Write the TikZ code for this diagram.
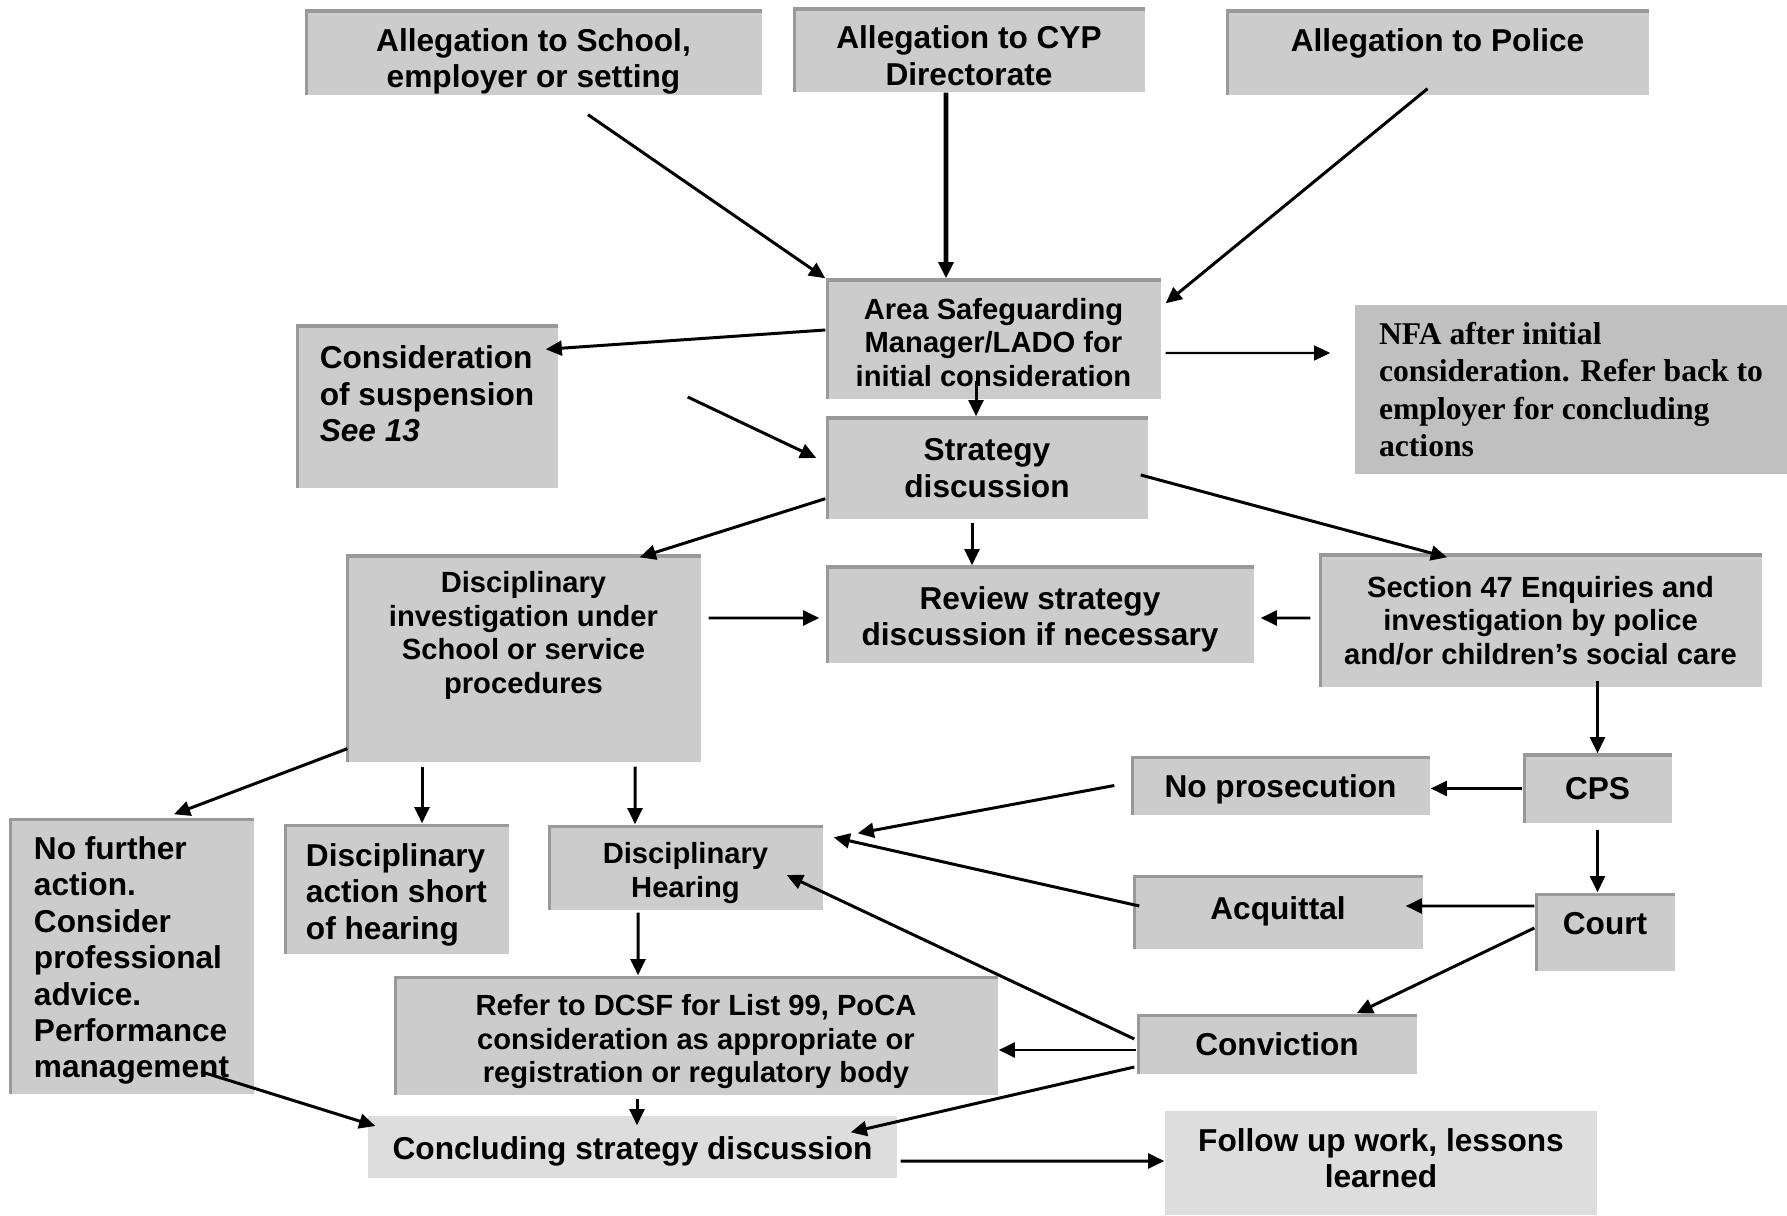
\documentclass[tikz,border=0pt]{standalone}
\usepackage{fontspec}
\setmainfont{Liberation Sans}
\newfontfamily\timesfont{Liberation Serif}
\usetikzlibrary{arrows.meta}

\definecolor{boxgray}{HTML}{CCCCCC}
\definecolor{edgegray}{HTML}{999999}
\definecolor{paleGray}{HTML}{DDDDDD}
\definecolor{nfagray}{HTML}{C0C0C0}
\newcommand{\bigtext}{\fontsize{9pt}{10.35pt}\selectfont\bfseries}
\newcommand{\smalltext}{\fontsize{8.3pt}{9.55pt}\selectfont\bfseries}

\begin{document}
\begin{tikzpicture}[
    box/.style={rectangle, fill=boxgray, inner sep=0pt, font=\bigtext, align=center,
        path picture={\draw[edgegray, line width=1.6pt] (path picture bounding box.south west) -- (path picture bounding box.north west) -- (path picture bounding box.north east);}},
    small/.style={font=\smalltext},
    plain/.style={rectangle, fill=paleGray, inner sep=0pt, font=\bigtext, align=center},
    arrow/.style={-{Triangle[length=4.6pt, width=4.2pt]}, line width=0.85pt},
]
\useasboundingbox (0,0) rectangle (17.87,-12.16);

% Allegations
\node[box, minimum width=4.57cm, minimum height=0.85cm, text height=20pt, text depth=0pt] (school) at (5.335, -0.525) {Allegation to School,\\employer or setting};
\node[box, minimum width=3.52cm, minimum height=0.84cm, text height=20pt, text depth=0pt] (cyp) at (9.69, -0.50) {Allegation to CYP\\Directorate};
\node[box, minimum width=4.23cm, minimum height=0.85cm, text depth=6.8pt] (police) at (14.375, -0.525) {Allegation to Police};

% Initial consideration
\node[box, small, minimum width=3.35cm, minimum height=1.20cm, text height=27.1pt] (lado) at (9.935, -3.39) {Area Safeguarding\\Manager/LADO for\\initial consideration};
\node[box, align=left, minimum width=2.62cm, minimum height=1.63cm, text depth=7.2pt] (consid) at (4.27, -4.065) {Consideration\\of suspension\\\textit{See 13}};
\node[rectangle, fill=nfagray, inner sep=0pt, align=left, font=\timesfont\fontsize{9pt}{10.6pt}\selectfont\bfseries, minimum width=4.32cm, minimum height=1.69cm] (nfa) at (15.71, -3.895) {NFA after initial\\consideration. Refer back to\\employer for concluding\\actions};
\node[box, minimum width=3.22cm, minimum height=1.02cm] (strat) at (9.87, -4.68) {Strategy\\discussion};

% Investigation
\node[box, small, minimum width=3.55cm, minimum height=2.07cm, text depth=14.8pt] (disinv) at (5.235, -6.585) {Disciplinary\\investigation under\\School or service\\procedures};
\node[box, minimum width=4.28cm, minimum height=0.97cm, text height=19.6pt] (review) at (10.40, -6.145) {Review strategy\\discussion if necessary};
\node[box, small, minimum width=4.43cm, minimum height=1.33cm] (sec47) at (15.405, -6.205) {Section 47 Enquiries and\\investigation by police\\and/or children’s social care};

% Outcomes
\node[box, minimum width=1.49cm, minimum height=0.69cm] (cps) at (15.975, -7.885) {CPS};
\node[box, minimum width=2.99cm, minimum height=0.59cm, text height=8.5pt] (noprosec) at (12.805, -7.855) {No prosecution};
\node[box, align=left, minimum width=2.45cm, minimum height=2.76cm, text height=71.2pt] (nofurther) at (1.315, -9.56) {No further\\action.\\Consider\\professional\\advice.\\Performance\\management};
\node[box, align=left, minimum width=2.25cm, minimum height=1.30cm, text height=30.5pt] (disshort) at (3.965, -8.89) {Disciplinary\\action short\\of hearing};
\node[box, small, minimum width=2.75cm, minimum height=0.85cm, text height=18.8pt] (hearing) at (6.855, -8.675) {Disciplinary\\Hearing};
\node[box, minimum width=2.90cm, minimum height=0.74cm, text depth=2pt] (acquit) at (12.78, -9.12) {Acquittal};
\node[box, minimum width=1.40cm, minimum height=0.78cm, text depth=4.6pt] (court) at (16.05, -9.32) {Court};
\node[box, small, minimum width=6.04cm, minimum height=1.19cm, text height=28.7pt] (refer) at (6.96, -10.355) {Refer to DCSF for List 99, PoCA\\consideration as appropriate or\\registration or regulatory body};
\node[box, minimum width=2.80cm, minimum height=0.60cm] (convict) at (12.77, -10.44) {Conviction};

% Conclusion
\node[plain, minimum width=5.29cm, minimum height=0.62cm, text height=9.1pt] (conclude) at (6.325, -11.47) {Concluding strategy discussion};
\node[plain, minimum width=4.32cm, minimum height=1.04cm, text depth=2.8pt] (followup) at (13.81, -11.63) {Follow up work, lessons\\learned};

% Arrows
\draw[arrow] ([shift={(0.545,-0.19)}]school.south) -- (lado.north west);
\draw[arrow, line width=1.3pt] ([xshift=-0.23cm]cyp.south) -- ([xshift=-0.475cm]lado.north);
\draw[arrow] ([shift={(-0.1,0.07)}]police.south) -- ([shift={(0.04,-0.25)}]lado.north east);
\draw[arrow] ([yshift=0.09cm]lado.west) -- ([shift={(-0.13,-0.25)}]consid.north east);
\draw[arrow] ([shift={(1.29,0.095)}]consid.east) -- ([shift={(-0.09,0.10)}]strat.west);
\draw[arrow, line width=0.6pt] ([shift={(0.04,-0.14)}]lado.east) -- ([shift={(-0.24,0.365)}]nfa.west);
\draw[arrow] ([shift={(-0.175,0.19)}]lado.south) -- ([xshift=-0.11cm]strat.north);
\draw[arrow] ([yshift=0.21cm]strat.south west) -- ([shift={(-0.62,-0.03)}]disinv.north east);
\draw[arrow] ([shift={(-0.15,-0.03)}]strat.south) -- ([xshift=-0.68cm]review.north);
\draw[arrow] ([shift={(-0.08,-0.07)}]strat.east) -- ([shift={(-0.935,-0.04)}]sec47.north);
\draw[arrow] ([shift={(0.07,0.405)}]disinv.east) -- ([shift={(-0.06,-0.035)}]review.west);
\draw[arrow] ([shift={(-0.08,0.025)}]sec47.west) -- ([shift={(0.06,-0.035)}]review.east);
\draw[arrow] ([yshift=0.07cm]sec47.south -| cps.north) -- (cps.north);
\draw[arrow] (cps.west) -- (noprosec.east |- cps.west);
\draw[arrow] ([xshift=-0.16cm]noprosec.west) -- ([shift={(0.34,-0.09)}]hearing.north east);
\draw[arrow] ([shift={(0.07,0.06)}]acquit.west) -- ([shift={(0.10,-0.13)}]hearing.north east);
\draw[arrow] ([yshift=-0.06cm]cps.south) -- (court.north -| cps.south);
\draw[arrow] ([yshift=0.26cm]court.west) -- ([shift={(-0.18,0.06)}]acquit.east);
\draw[arrow] ([yshift=0.04cm]court.west) -- ([xshift=-0.61cm]convict.north east);
\draw[arrow] ([shift={(-0.02,0.05)}]convict.west) -- ([shift={(-0.37,-0.075)}]hearing.east);
\draw[arrow] ([yshift=-0.06cm]convict.west) -- ([yshift=-0.06cm]convict.west -| refer.east);
\draw[arrow] ([shift={(-0.02,-0.23)}]convict.west) -- ([shift={(-0.47,-0.17)}]conclude.north east);
\draw[arrow] ([shift={(0.02,0.14)}]disinv.south west) -- ([shift={(0.425,0.03)}]nofurther.north);
\draw[arrow] ([shift={(0.255,-0.04)}]disshort.north |- disinv.south) -- ([xshift=0.255cm]disshort.north);
\draw[arrow] ([shift={(-0.505,-0.04)}]hearing.north |- disinv.south) -- ([xshift=-0.505cm]hearing.north);
\draw[arrow] ([shift={(-0.475,-0.02)}]hearing.south) -- ([xshift=-0.475cm]hearing.south |- refer.north);
\draw[arrow] ([shift={(-0.59,-0.03)}]refer.south) -- ([shift={(-0.59,-0.10)}]refer.south |- conclude.north);
\draw[arrow] ([shift={(0.695,0.23)}]nofurther.south) -- ([shift={(0.08,0.21)}]conclude.west);
\draw[arrow] ([shift={(0.03,-0.14)}]conclude.east) -- ([yshift=-0.14cm]conclude.east -| followup.west);
\end{tikzpicture}
\end{document}
